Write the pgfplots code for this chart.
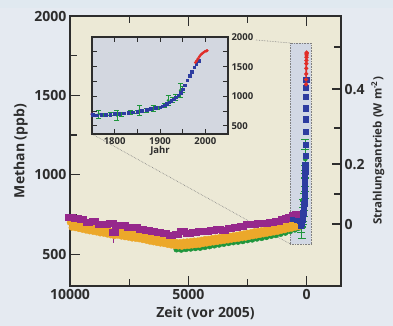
\documentclass[border=0pt]{standalone}
\usepackage{fontspec}
\setmainfont{Open Sans}
\usepackage{pgfplots}
\pgfplotsset{compat=1.18}
\usepackage{pgfplotstable}

\definecolor{bgout}{RGB}{229,234,241}
\definecolor{bgtop}{RGB}{224,233,240}
\definecolor{beige}{RGB}{236,233,214}
\definecolor{insetbg}{RGB}{211,215,224}
\definecolor{boxbg}{RGB}{210,216,228}
\definecolor{cpurple}{RGB}{150,40,140}
\definecolor{corange}{RGB}{236,168,42}
\definecolor{cgreen}{RGB}{30,150,60}
\definecolor{cblue}{RGB}{45,60,160}
\definecolor{cred}{RGB}{225,45,40}
\definecolor{axcol}{RGB}{45,45,45}

\pgfplotstableread{
year val
1745 680
1752 688
1760 685
1770 690
1780 690
1790 695
1800 705
1810 708
1820 715
1830 722
1840 730
1850 745
1860 758
1870 770
1880 788
1890 805
1900 820
1905 835
1910 850
1915 875
1920 900
1925 925
1930 950
1935 985
1940 1020
1945 1060
1950 1120
1955 1190
1960 1270
1965 1350
1970 1420
1975 1490
1980 1550
1985 1600
}\blueT

\pgfplotstableread{
year val
1978 1570
1981 1600
1984 1635
1987 1670
1990 1700
1993 1720
1996 1740
1999 1755
2002 1765
2004 1770
}\redT

\pgfplotstableread{
year val err
1765 700 65
1775 690 30
1790 698 25
1805 680 80
1815 700 30
1835 730 40
1850 735 30
1855 765 80
1870 765 30
1885 790 50
1895 805 30
1910 845 35
1918 930 80
1928 935 40
1935 975 50
1945 1100 120
1950 1110 50
}\greenT

\pgfplotstableread{
bp val err
10000 735 20
9750 725 20
9500 718 20
9250 702 20
9000 705 18
8750 692 18
8500 688 18
8250 695 18
8150 640 70
8000 680 20
7750 682 20
7500 672 20
7250 670 20
7000 660 20
6750 650 20
6500 648 20
6250 640 20
6000 632 20
5750 622 20
5500 625 20
5250 642 20
5000 635 20
4750 640 20
4500 645 20
4250 642 20
4000 650 20
3750 655 20
3500 652 20
3250 662 20
3000 672 20
2750 676 20
2500 688 20
2250 690 20
2000 695 20
1750 698 20
1500 702 20
1250 710 20
1000 718 20
850 728 20
700 735 20
550 745 20
400 750 20
}\purpleT

\pgfplotstableread{
bp val
10000 700
9850 690
9700 695
9550 683
9400 678
9250 680
9100 670
8950 665
8800 668
8650 658
8500 660
8350 652
8200 645
8050 650
7900 642
7750 645
7600 636
7450 635
7300 628
7150 625
7000 626
6850 618
6700 612
6550 606
6400 602
6250 598
6100 592
5950 588
5800 584
5650 580
5500 576
5350 575
5200 578
5050 580
4900 582
4750 585
4600 586
4450 590
4300 595
4150 596
4000 600
3850 604
3700 606
3550 610
3400 612
3250 616
3100 618
2950 622
2800 626
2650 630
2500 634
2350 638
2200 644
2050 646
1900 650
1750 654
1600 658
1450 662
1300 666
1150 670
1000 676
850 680
700 686
550 690
400 695
300 700
}\orangeA

\pgfplotstableread{
bp val
9925 668
9775 665
9625 660
9475 655
9325 650
9175 645
9025 642
8875 638
8725 632
8575 630
8425 625
8275 620
8125 615
7975 618
7825 612
7675 608
7525 605
7375 600
7225 598
7075 595
6925 590
6775 586
6625 580
6475 576
6325 572
6175 568
6025 565
5875 560
5725 556
5575 552
5425 550
5275 548
5125 552
4975 553
4825 556
4675 558
4525 560
4375 565
4225 568
4075 572
3925 575
3775 578
3625 582
3475 585
3325 588
3175 592
3025 595
2875 598
2725 602
2575 605
2425 610
2275 614
2125 618
1975 622
1825 626
1675 630
1525 634
1375 638
1225 642
1075 648
925 652
775 658
625 662
475 668
325 672
}\orangeB

\pgfplotstableread{
bp val
6600 625
5500 530
5300 528
5100 532
4900 535
4700 538
4500 540
4300 545
4100 550
3900 555
3700 560
3500 565
3300 570
3100 575
2900 578
2700 582
2500 588
2300 592
2100 598
1900 602
1700 608
1500 615
1300 620
1100 628
900 635
700 645
500 655
350 665
}\greenIceT

\pgfplotstableread{
bp val
600 720
450 712
300 705
}\blueIceT

\begin{document}
\begin{tikzpicture}
\fill[bgout] (0pt,0pt) rectangle (393pt,326pt);
\fill[bgtop] (0pt,318pt) rectangle (393pt,326pt);

\pgfplotsset{
  every axis/.append style={
    /pgf/number format/assume math mode=true,
    /pgf/number format/1000 sep={},
    scaled ticks=false,
  },
}

% main axis
\begin{axis}[
  at={(70pt,40pt)}, anchor=south west, scale only axis,
  width=271pt, height=270pt,
  x dir=reverse, xmin=-1450, xmax=10000,
  ymin=300, ymax=2000,
  xtick={0,5000,10000}, minor xtick={2500,7500},
  ytick={500,1000,1500,2000}, minor ytick={750,1250,1750},
  ytick pos=left, xtick pos=both,
  tick align=inside,
  major tick length=10pt, minor tick length=7pt,
  axis line style={line width=1.3pt, draw=axcol},
  every tick/.style={line width=1.3pt, draw=axcol},
  axis background/.style={fill=beige},
  tick label style={font=\fontsize{14}{14}\selectfont\bfseries, text=axcol},
  label style={font=\fontsize{14}{14}\selectfont\bfseries, text=axcol},
  xlabel={Zeit (vor 2005)}, ylabel={Methan (ppb)},
]
\fill[boxbg] (axis cs:700,565) rectangle (axis cs:-190,1830);
\draw[gray, densely dotted, line width=0.6pt] (axis cs:700,565) rectangle (axis cs:-190,1830);
\draw[gray, densely dotted, line width=0.6pt] (axis cs:9070,1257) -- (axis cs:700,565);
\draw[gray, densely dotted, line width=0.6pt] (axis cs:2141,1849) -- (axis cs:700,1830);

\addplot[only marks, mark=*, mark size=2.8pt, color=cgreen] table[x=bp, y=val] {\greenIceT};
\addplot[only marks, mark=*, mark size=3pt, color=corange] table[x=bp, y=val] {\orangeB};
\addplot[only marks, mark=*, mark size=3pt, color=corange] table[x=bp, y=val] {\orangeA};
\addplot[only marks, mark=square*, mark size=3pt, color=cpurple, mark options={xscale=1.6},
  error bars/.cd, y dir=both, y explicit, error bar style={line width=1.2pt, cpurple}, error mark=none]
  table[x=bp, y=val, y error=err] {\purpleT};
\addplot[only marks, mark=square*, mark size=2pt, color=cblue] table[x=bp, y=val] {\blueIceT};
\addplot[only marks, mark=*, mark size=2.2pt, color=cgreen,
  error bars/.cd, y dir=both, y explicit, error bar style={line width=1pt, cgreen}, error mark options={rotate=90, mark size=4pt, line width=1pt, cgreen}]
  table[x expr=2005-\thisrow{year}, y=val, y error=err] {\greenT};
\addplot[only marks, mark=square*, mark size=2.6pt, color=cblue] table[x expr=2005-\thisrow{year}, y=val] {\blueT};
\addplot[line width=1.6pt, color=cred, mark=*, mark size=1.2pt] table[x expr=2005-\thisrow{year}, y=val] {\redT};
\end{axis}

% right axis (radiative forcing)
\begin{axis}[
  at={(70pt,40pt)}, anchor=south west, scale only axis,
  width=271pt, height=270pt,
  x dir=reverse, xmin=-1450, xmax=10000,
  ymin=300, ymax=2000,
  axis x line=none, axis y line*=right,
  ytick={690,1068,1540}, yticklabels={0,0.2,0.4},
  minor ytick={879,1295,1805},
  tick align=inside,
  major tick length=9pt, minor tick length=7pt,
  axis line style={line width=1.3pt, draw=axcol, -},
  every tick/.style={line width=1.3pt, draw=axcol},
  tick label style={font=\fontsize{14}{14}\selectfont\bfseries, text=axcol},
  label style={font=\fontsize{11.5}{12}\selectfont\bfseries, text=axcol},
  ylabel={Strahlungsantrieb (W m\textsuperscript{-2})},
]
\end{axis}

% inset
\begin{axis}[
  at={(92pt,192pt)}, anchor=south west, scale only axis,
  width=136pt, height=97pt,
  xmin=1750, xmax=2050, ymin=365, ymax=2000,
  xtick={1800,1900,2000}, minor xtick={1850,1950},
  ytick={500,1000,1500,2000}, minor ytick={750,1250,1750},
  yticklabel pos=right, xtick pos=both, ytick pos=both,
  tick align=inside,
  major tick length=5pt, minor tick length=5pt,
  axis line style={line width=1.1pt, draw=axcol},
  every tick/.style={line width=1pt, draw=axcol},
  axis background/.style={fill=insetbg},
  tick label style={font=\fontsize{9.5}{9.5}\selectfont\bfseries, text=axcol},
  label style={font=\fontsize{9.5}{9.5}\selectfont\bfseries, text=axcol},
  xlabel={Jahr},
  xlabel style={yshift=5pt},
]
\addplot[only marks, mark=*, mark size=1.5pt, color=cpurple] coordinates {(1750,700)};
\addplot[only marks, mark=*, mark size=1.3pt, color=cgreen,
  error bars/.cd, y dir=both, y explicit, error bar style={line width=0.8pt, cgreen}, error mark options={rotate=90, mark size=2.5pt, line width=0.8pt, cgreen}]
  table[x=year, y=val, y error=err] {\greenT};
\addplot[only marks, mark=square*, mark size=1.3pt, color=cblue] table[x=year, y=val] {\blueT};
\addplot[only marks, mark=*, mark size=1.3pt, color=cred] table[x=year, y=val] {\redT};
\end{axis}

\pgfresetboundingbox
\path[use as bounding box] (0pt,0pt) rectangle (393pt,326pt);
\end{tikzpicture}
\end{document}
